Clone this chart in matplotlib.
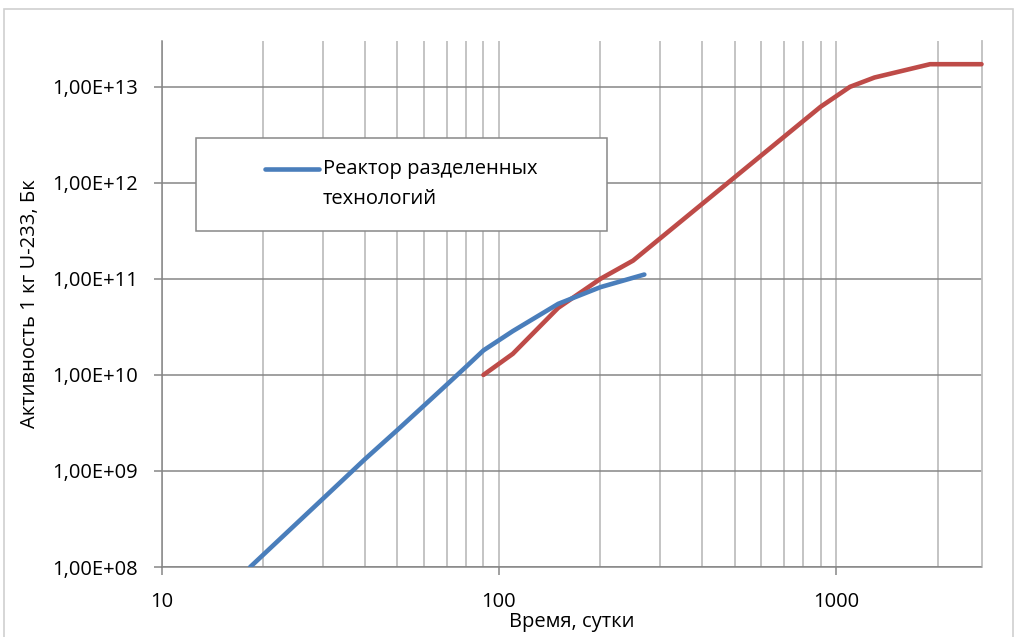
import matplotlib.pyplot as plt
from matplotlib.patches import Rectangle
from matplotlib.lines import Line2D
from matplotlib.ticker import FixedLocator, FuncFormatter, NullFormatter

plt.rcParams['font.family'] = ['Open Sans', 'DejaVu Sans']

# Время, сутки / активность, Бк
t_sep = [18.3, 30, 40, 50, 60, 70, 80, 90, 110, 150, 200, 270]
a_sep = [1.0e8, 5.1e8, 1.32e9, 2.67e9, 4.8e9, 7.9e9, 1.22e10, 1.8e10,
         2.86e10, 5.5e10, 8.2e10, 1.11e11]

t_std = [90, 110, 150, 200, 250, 900, 1100, 1300, 1900, 2700]
a_std = [1.0e10, 1.66e10, 5.0e10, 1.0e11, 1.55e11, 6.2e12, 1.0e13,
         1.25e13, 1.72e13, 1.72e13]

legend_lines = ['Реактор разделенных', 'технологий']

W, H = 1015, 637
fig = plt.figure(figsize=(W / 100, H / 100), dpi=100)
ax = fig.add_axes([161.7 / W, 1 - 567 / H, 819.8 / W, 526 / H])

blue = '#4A7EBB'
red = '#BE4B48'
ax.plot(t_sep, a_sep, color=blue, lw=3.3, solid_capstyle='round', zorder=4)
ax.plot(t_std, a_std, color=red, lw=3.3, solid_capstyle='round', zorder=3,
        clip_on=False)

ax.set_xscale('log')
ax.set_yscale('log')
ax.set_xlim(10, 2700)
ax.set_ylim(1e8, 3e13)

ax.xaxis.set_major_locator(FixedLocator([10, 100, 1000]))
ax.xaxis.set_minor_locator(FixedLocator(
    [k * d for d in (10, 100, 1000) for k in range(2, 10) if k * d < 2700]))
ax.xaxis.set_major_formatter(FuncFormatter(lambda v, p: '%d' % v))
ax.xaxis.set_minor_formatter(NullFormatter())
ax.yaxis.set_major_locator(FixedLocator([1e8, 1e9, 1e10, 1e11, 1e12, 1e13]))
ax.yaxis.set_minor_locator(FixedLocator([]))
ax.yaxis.set_major_formatter(
    FuncFormatter(lambda v, p: '{:.2E}'.format(v).replace('.', ',')))

ax.grid(True, axis='y', which='major', color='#868686', lw=1.1)
ax.grid(True, axis='x', which='both', color='#BFBFBF', lw=1.3)
ax.set_axisbelow(True)

for s in ('top',):
    ax.spines[s].set_visible(False)
ax.spines['right'].set_color('#BFBFBF')
ax.spines['right'].set_linewidth(1.3)
for s in ('left', 'bottom'):
    ax.spines[s].set_color('#868686')
    ax.spines[s].set_linewidth(1.1)

ax.tick_params(axis='both', which='major', direction='out', length=6,
               width=1.1, color='#868686', labelsize=14.5, labelcolor='black')
ax.tick_params(axis='x', which='major', pad=12)
ax.tick_params(axis='y', which='major', pad=11)
ax.tick_params(axis='x', which='minor', length=0)

# легенда
ax.add_patch(Rectangle((0.0418, 0.6388), 0.5014, 0.1768, transform=ax.transAxes,
                       facecolor='white', edgecolor='#888888', lw=1.1,
                       zorder=5))
ax.add_line(Line2D([0.126, 0.1919], [0.7567, 0.7567], transform=ax.transAxes,
                   color=blue, lw=3.3, solid_capstyle='round', zorder=6))
ax.text(0.1968, 0.7567, legend_lines[0], transform=ax.transAxes,
        ha='left', va='center', fontsize=14.5, zorder=6)
ax.text(0.1968, 0.6996, legend_lines[1], transform=ax.transAxes,
        ha='left', va='center', fontsize=14.5, zorder=6)

fig.text(572 / W, 1 - 622 / H, 'Время, сутки', ha='center', va='center',
         fontsize=14.5)
fig.text(30 / W, 1 - 304 / H, 'Активность 1 кг U-233, Бк', ha='center',
         va='center', rotation=90, fontsize=14.5)

# рамка области диаграммы
fig.patches.append(Rectangle((4 / W, -0.05), 1009 / W, 1.05 - 9 / H,
                             transform=fig.transFigure, fill=False,
                             edgecolor='#D0D0D0', lw=1.2))

fig.savefig('out.png', dpi=100)
